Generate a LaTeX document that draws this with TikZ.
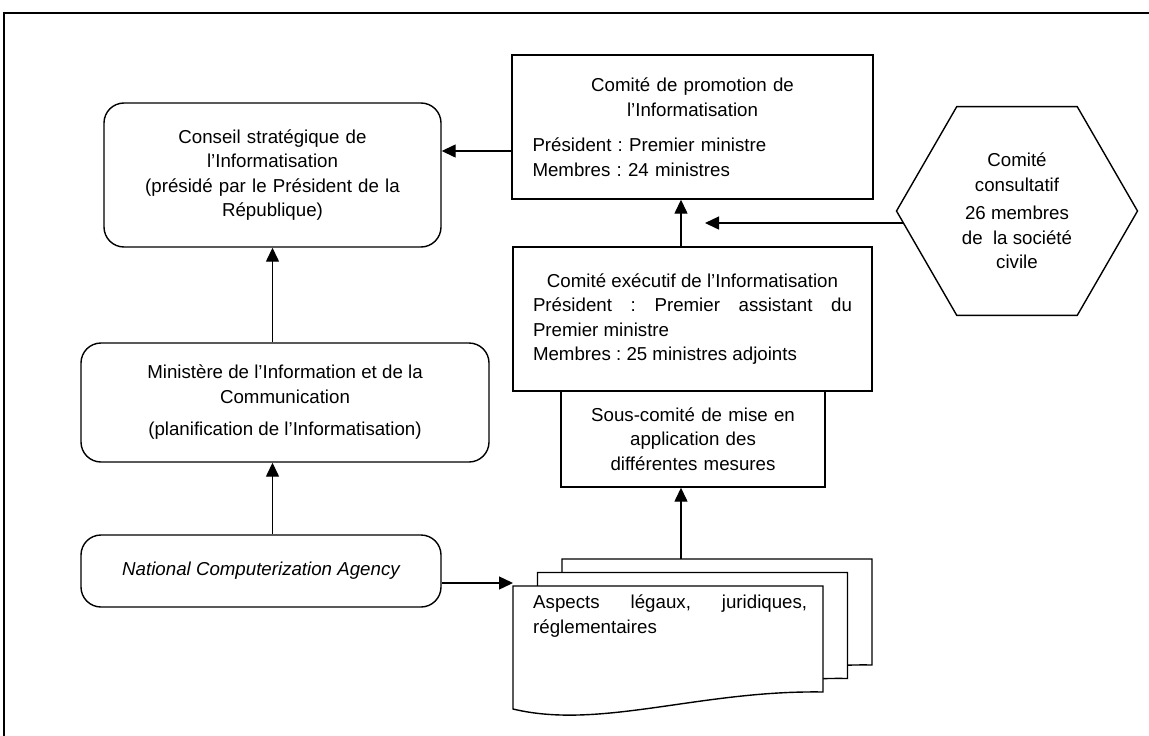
\documentclass[tikz,border=0pt]{standalone}
\usepackage{fontspec}
\setmainfont{Liberation Sans}
\frenchspacing
\usetikzlibrary{arrows.meta,shapes.geometric}
\tikzset{
  box/.style={draw, line width=1.4pt, inner sep=0pt, font=\fontsize{18.7}{24.5}\selectfont},
  rbox/.style={box, rounded corners=20pt},
  arr/.style={-{Triangle[length=14pt,width=13pt]}, line width=1.4pt},
  docpage/.style={draw, fill=white, line width=1.4pt}
}
\begin{document}
\begin{tikzpicture}[x=1pt,y=-1pt]
\useasboundingbox (0,0) rectangle (1149,736);

%Frame
\draw [line width=1.6pt] (1149,13) -- (4,13) -- (4,736);

%Shape: Rounded Rect
\node [rbox, minimum width=337pt, minimum height=144pt, text width=320pt, align=center] (conseil) at (272.5,175)
  {Conseil stratégique de\\ l’Informatisation\\ (présidé par le Président de la\\ République)};
%Shape: Rectangle
\node [box, minimum width=361pt, minimum height=144pt, text width=320pt, align=left] (promo) at (692.5,127)
  {{\centering Comité de promotion de\\ l’Informatisation\par}\vspace{11pt}Président : Premier ministre\\ Membres : 24 ministres};
%Shape: Rectangle
\node [box, minimum width=359pt, minimum height=144pt, text width=319pt, align=justify] (exec) at (692.5,319)
  {{\centering Comité exécutif de l’Informatisation\par}Président : Premier assistant du\linebreak Premier ministre\\ Membres : 25 ministres adjoints\par\vspace*{17pt}};
%Shape: Rectangle
\node [box, minimum width=264pt, minimum height=96pt, text width=240pt, align=center] (sous) at (693,439)
  {Sous-comité de mise en\\ application des\\ différentes mesures};
%Shape: Hexagon
\node [box, regular polygon, regular polygon sides=6, minimum size=241pt, align=center] (consult) at (1017,211)
  {Comité\\ consultatif\\[4pt] 26 membres\\ de~ la société\\ civile};
%Shape: Rounded Rect
\node [rbox, minimum width=408pt, minimum height=119pt, align=center] (mininfo) at (285,402.5)
  {Ministère de l’Information et de la\\ Communication\\[8pt] (planification de l’Informatisation)};
%Shape: Rounded Rect
\node [rbox, minimum width=360pt, minimum height=72pt, font=\fontsize{18.7}{24.5}\selectfont\itshape] (nca) at (261,571)
  {National Computerization Agency};

%Shape: Multi-Document
\foreach \s in {2,1,0}
  \draw [docpage, shift={(\s*24.5,-\s*13.5)}] (513,586) -- (823,586) -- (823,692)
    .. controls (700,690) and (600,730) .. (513,709) -- cycle;
% Text Node
\node [anchor=north west, inner sep=0pt, text width=274pt, align=justify, font=\fontsize{18.7}{24.5}\selectfont] (aspects) at (533,595)
  {Aspects légaux, juridiques,\linebreak réglementaires};
\coordinate (docin) at (513,583);
\coordinate (docout) at (681,559);
\coordinate (civ) at (705,223);

%Arrows
\draw [arr] ([yshift=-24pt]promo.west) -- ([yshift=-24pt]promo.west -| conseil.east);
\draw [arr] ([xshift=-11.5pt]exec.north) -- ([xshift=-11.5pt]promo.south);
\draw [arr] (consult.186) -- (consult.186 -| civ);
\draw [arr] (conseil.south |- mininfo.north) -- (conseil.south);
\draw [arr] (conseil.south |- nca.north) -- (conseil.south |- mininfo.south);
\draw [arr] ([yshift=-12pt]nca.east) -- ([yshift=-12pt]nca.east -| docin);
\draw [arr] (docout) -- (docout |- sous.south);

\end{tikzpicture}
\end{document}
